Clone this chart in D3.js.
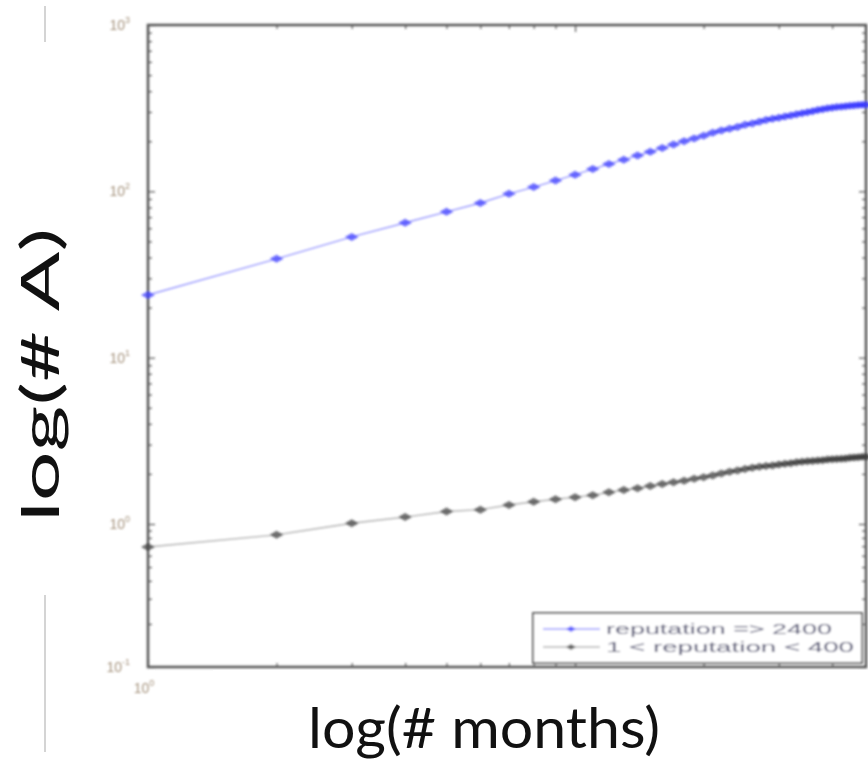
<!doctype html>
<html>
<head>
<style>
  body { margin: 0; background: #fff; }
  svg { display: block; }
  .big { font-family: Lato, 'Open Sans', sans-serif; fill: #111; }
  .tick-label { font-family: 'Liberation Sans', Arial, sans-serif; fill: #a4927c; font-size: 14px; }
  .leg { font-family: 'Liberation Sans', Arial, sans-serif; fill: #5a5a78; font-size: 15px; }
</style>
<script src="https://cdn.jsdelivr.net/npm/d3@7"></script>
</head>
<body>
<svg width="868" height="769"></svg>
<script>
const months = [1, 2, 3, 4, 5, 6, 7, 8, 9, 10, 11, 12, 13, 14, 15, 16, 17, 18, 19, 20, 21, 22, 23, 24,
                25, 26, 27, 28, 29, 30, 31, 32, 33, 34, 35, 36, 37, 38, 39, 40, 41, 42, 43, 44, 45, 46, 47, 48];

// reputation >= 2400
const highRep = [23.8, 39.3, 53.2, 64.7, 75.3, 85.1, 96.6, 106, 116, 126, 136, 146, 155, 164, 173, 182,
                 191, 200, 208, 216, 225, 232, 238, 244, 251, 256, 262, 268, 273, 277, 282, 286,
                 291, 295, 299, 303, 308, 312, 316, 318, 321, 323, 325, 327, 328, 330, 331, 332];

// 1 < reputation < 400
const lowRep = [0.69, 0.84, 1.01, 1.10, 1.19, 1.22, 1.30, 1.36, 1.41, 1.45, 1.49, 1.55, 1.60, 1.64, 1.69, 1.74,
                1.78, 1.82, 1.87, 1.91, 1.96, 2.01, 2.06, 2.10, 2.14, 2.18, 2.21, 2.23, 2.25, 2.28, 2.30, 2.32,
                2.35, 2.37, 2.38, 2.39, 2.41, 2.42, 2.44, 2.45, 2.46, 2.47, 2.48, 2.50, 2.51, 2.52, 2.54, 2.54];

const yMajor = [0.1, 1, 10, 100, 1000];
const xMajor = [1, 10];
const xLabelled = [1];
const legendLabels = ['reputation => 2400', '1 < reputation < 400'];

const svg = d3.select('svg');

svg.append('rect').attr('width', 868).attr('height', 769).attr('fill', '#fff');

const defs = svg.append('defs');
defs.append('filter').attr('id', 'blur')
    .attr('x', '-5%').attr('y', '-5%').attr('width', '110%').attr('height', '110%')
    .append('feGaussianBlur').attr('stdDeviation', 1.3);
defs.append('filter').attr('id', 'blurText')
    .append('feGaussianBlur').attr('stdDeviation', 0.9);

const x = d3.scaleLog().domain([1, 48]).range([148, 866]);
// the pasted figure is squeezed in its lowest decade
const y = d3.scaleLog().domain([0.1, 1, 1000]).range([667, 524, 25]);

const plot = svg.append('g').attr('filter', 'url(#blur)');

// ticks, inside the box like matlab
const yMinor = y.ticks().filter(v => !yMajor.includes(v));
const xMinor = x.ticks().filter(v => !xMajor.includes(v));

function ticks(axis, tx, ty) {
    const a = plot.append('g').attr('transform', `translate(${tx}, ${ty})`).call(axis);
    a.select('.domain').remove();
    a.selectAll('line').attr('stroke', '#555').attr('stroke-width', 1.2);
}
ticks(d3.axisRight(y).tickValues(yMajor).tickSize(7).tickFormat(''), x(1), 0);
ticks(d3.axisRight(y).tickValues(yMinor).tickSize(4).tickFormat(''), x(1), 0);
ticks(d3.axisLeft(y).tickValues(yMajor).tickSize(7).tickFormat(''), x(48), 0);
ticks(d3.axisLeft(y).tickValues(yMinor).tickSize(4).tickFormat(''), x(48), 0);
ticks(d3.axisBottom(x).tickValues(xMajor).tickSize(7).tickFormat(''), 0, y(1000));
ticks(d3.axisBottom(x).tickValues(xMinor).tickSize(4).tickFormat(''), 0, y(1000));
ticks(d3.axisTop(x).tickValues(xMajor).tickSize(7).tickFormat(''), 0, y(0.1));
ticks(d3.axisTop(x).tickValues(xMinor).tickSize(4).tickFormat(''), 0, y(0.1));

plot.append('rect')
    .attr('x', x(1)).attr('y', y(1000))
    .attr('width', x(48) - x(1)).attr('height', y(0.1) - y(1000))
    .attr('fill', 'none').attr('stroke', '#555').attr('stroke-width', 2.5);

const diamond = 'M-7,0L0,-4L7,0L0,4Z';

const series = [
    { values: highRep, line: '#9a9aff', mark: '#3434ff' },
    { values: lowRep, line: '#b4b4b4', mark: '#383838' }
];

const line = d3.line()
    .x((d, i) => x(months[i]))
    .y(d => y(d));

series.forEach(s => {
    plot.append('path')
        .attr('d', line(s.values))
        .attr('fill', 'none')
        .attr('stroke', s.line)
        .attr('stroke-width', 1.4);

    plot.selectAll(null)
        .data(s.values)
        .enter()
        .append('path')
        .attr('d', diamond)
        .attr('transform', (d, i) => `translate(${x(months[i])}, ${y(d)})`)
        .attr('fill', s.mark)
        .attr('fill-opacity', 0.7);
});

// legend
const leg = plot.append('g');
leg.append('rect')
    .attr('x', 533).attr('y', 613).attr('width', 329).attr('height', 50)
    .attr('fill', '#fff').attr('stroke', '#666').attr('stroke-width', 2);

series.forEach((s, i) => {
    const cy = 629 + i * 18;
    leg.append('line')
        .attr('x1', 543).attr('x2', 600).attr('y1', cy).attr('y2', cy)
        .attr('stroke', s.line).attr('stroke-width', 1.6);
    leg.append('path')
        .attr('d', 'M-5,0L0,-3L5,0L0,3Z')
        .attr('transform', `translate(571, ${cy})`)
        .attr('fill', s.mark).attr('fill-opacity', 0.7);
    leg.append('text')
        .attr('class', 'leg')
        .attr('x', 606).attr('y', cy + 5)
        .attr('textLength', i === 0 ? 226 : 248)
        .attr('lengthAdjust', 'spacingAndGlyphs')
        .text(legendLabels[i]);
});

// tick labels
const labels = svg.append('g').attr('filter', 'url(#blurText)');

yMajor.forEach(v => {
    const t = labels.append('text')
        .attr('class', 'tick-label')
        .attr('x', 130).attr('y', y(v) + 5)
        .attr('text-anchor', 'end');
    t.append('tspan').text('10');
    t.append('tspan').attr('dy', -7).attr('font-size', 9).text(Math.round(Math.log10(v)));
});

xLabelled.forEach(v => {
    const t = labels.append('text')
        .attr('class', 'tick-label')
        .attr('x', x(v) - 4).attr('y', 693)
        .attr('text-anchor', 'middle');
    t.append('tspan').text('10');
    t.append('tspan').attr('dy', -7).attr('font-size', 9).text(Math.round(Math.log10(v)));
});

// white boxes with the slide labels laid over the figure
svg.append('rect').attr('x', 213).attr('y', 670).attr('width', 655).attr('height', 99).attr('fill', '#fff');
svg.append('rect').attr('x', 0).attr('y', 42).attr('width', 97).attr('height', 553).attr('fill', '#fff');

svg.append('line').attr('x1', 45).attr('x2', 45).attr('y1', 6).attr('y2', 42)
    .attr('stroke', '#d4d4d4').attr('stroke-width', 2);
svg.append('line').attr('x1', 45).attr('x2', 45).attr('y1', 595).attr('y2', 752)
    .attr('stroke', '#d4d4d4').attr('stroke-width', 2);

svg.append('text')
    .attr('class', 'big')
    .attr('x', 484).attr('y', 748)
    .attr('text-anchor', 'middle')
    .attr('font-size', 56)
    .attr('textLength', 352).attr('lengthAdjust', 'spacingAndGlyphs')
    .text('log(# months)');

svg.append('text')
    .attr('class', 'big')
    .attr('transform', 'translate(59, 375) rotate(-90)')
    .attr('text-anchor', 'middle')
    .attr('font-size', 52)
    .attr('textLength', 294).attr('lengthAdjust', 'spacingAndGlyphs')
    .text('log(# A)');
</script>
</body>
</html>
